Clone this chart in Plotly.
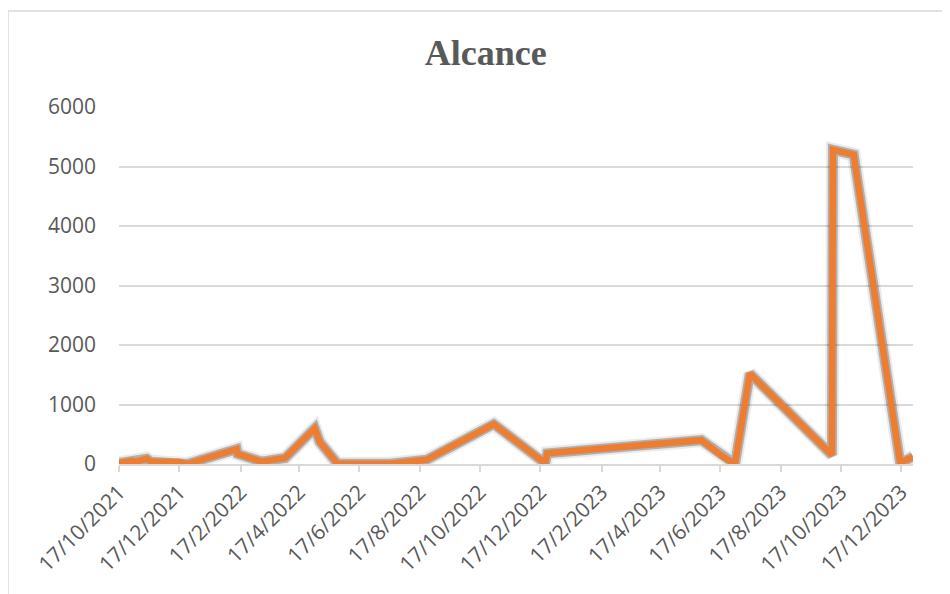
import plotly.graph_objects as go

title_text = "Alcance"

dates = ["2021-10-17", "2021-10-30", "2021-11-04", "2021-11-14", "2021-11-18",
         "2021-12-17", "2021-12-25", "2022-02-13", "2022-02-14", "2022-03-10",
         "2022-04-03", "2022-05-03", "2022-05-08", "2022-05-26", "2022-07-18",
         "2022-08-24", "2022-10-31", "2022-12-22", "2022-12-24", "2023-05-29",
         "2023-06-20", "2023-07-02", "2023-07-17", "2023-10-08", "2023-10-09",
         "2023-10-30", "2023-12-16", "2023-12-29"]
values = [15, 55, 40, 90, 40,
          35, 0, 250, 170, 40,
          100, 600, 370, 5, 5,
          70, 670, 10, 180, 400,
          120, 0, 1520, 150, 5280,
          5200, 20, 120]

y_ticks = [0, 1000, 2000, 3000, 4000, 5000, 6000]
x_range = ["2021-10-17", "2023-12-29"]

GRID = "#d9d9d9"
TEXT = "#595959"
ORANGE = "#ED7D31"

# page body adds an 8px offset; margins compensate
ML, MR, MT, MB = 111, 45, 99, 138

fig = go.Figure()
# soft shadow under the line
fig.add_trace(go.Scatter(x=dates, y=values, mode="lines",
                         line=dict(color="rgba(0,0,0,0.08)", width=14),
                         hoverinfo="skip", showlegend=False))
fig.add_trace(go.Scatter(x=dates, y=values, mode="lines",
                         line=dict(color="rgba(0,0,0,0.25)", width=10),
                         hoverinfo="skip", showlegend=False))
fig.add_trace(go.Scatter(x=dates, y=values, mode="lines",
                         line=dict(color=ORANGE, width=6.5),
                         name="Alcance", showlegend=False))

fig.update_layout(
    width=950, height=594,
    margin=dict(l=ML, r=MR, t=MT, b=MB),
    paper_bgcolor="white", plot_bgcolor="white",
    title=dict(text="<b>" + title_text + "</b>", x=0.503, xref="container",
               xanchor="center", y=0.926, yref="container", yanchor="middle",
               font=dict(family="Liberation Serif", size=36, color=TEXT)),
    font=dict(family="Open Sans", color=TEXT),
    xaxis=dict(type="date", range=x_range, tick0="2021-10-17", dtick="M2",
               tickformat="%-d/%-m/%Y", tickangle=-45,
               showgrid=False, showline=True, linecolor=GRID, linewidth=1.5,
               ticks="outside", ticklen=6, tickcolor=GRID, tickwidth=1.5,
               tickfont=dict(family="Open Sans", size=21, color=TEXT),
               zeroline=False),
    yaxis=dict(range=[0, 6000], tickvals=y_ticks, showgrid=True, gridcolor=GRID,
               gridwidth=1.5, zeroline=False, ticks="", ticklabelstandoff=22,
               tickfont=dict(family="Open Sans", size=21, color=TEXT)),
    shapes=[dict(type="rect", xref="paper", yref="paper",
                 x0=(0 - ML) / 794, x1=(960 - ML) / 794,
                 y0=(456 - 600) / 357, y1=(456 - 3) / 357,
                 line=dict(color=GRID, width=1.5), fillcolor="rgba(0,0,0,0)",
                 layer="below")],
)

fig.write_html("out.html")
